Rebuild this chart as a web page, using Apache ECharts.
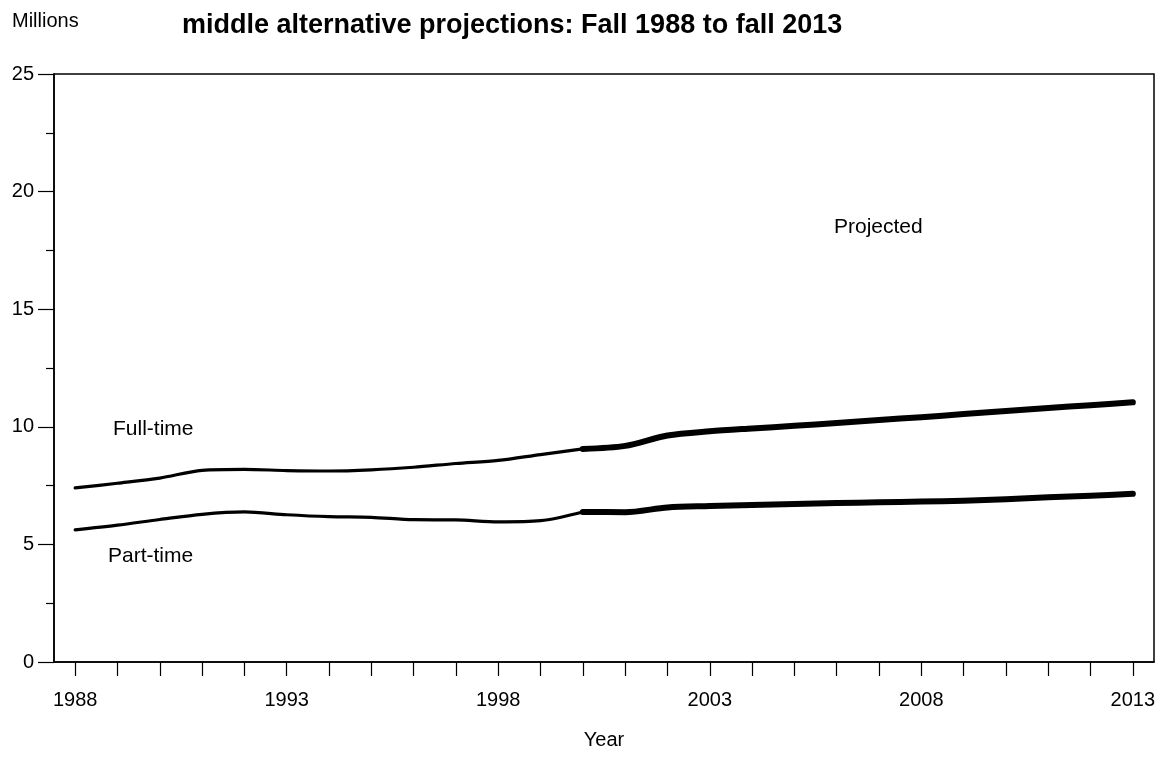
<!DOCTYPE html>
<html>
<head>
<meta charset="utf-8">
<script src="https://cdn.jsdelivr.net/npm/echarts@6/dist/echarts.min.js"></script>
<style>
  html, body { margin: 0; padding: 0; background: #fff; }
  #chart { width: 1172px; height: 759px; }
</style>
</head>
<body>
<div id="chart"></div>
<script>
// ---- data (millions) ----
const years = ['1988','1989','1990','1991','1992','1993','1994','1995','1996','1997','1998','1999','2000',
               '2001','2002','2003','2004','2005','2006','2007','2008','2009','2010','2011','2012','2013'];
const fullTime = [7.40, 7.60, 7.82, 8.15, 8.19, 8.14, 8.12, 8.17, 8.28, 8.44, 8.57, 8.82, 9.06,
                  9.19, 9.63, 9.81, 9.93, 10.04, 10.16, 10.29, 10.41, 10.54, 10.67, 10.80, 10.92, 11.04];
const partTime = [5.62, 5.82, 6.06, 6.28, 6.38, 6.26, 6.18, 6.15, 6.05, 6.04, 5.96, 6.01, 6.38,
                  6.37, 6.57, 6.63, 6.68, 6.72, 6.76, 6.79, 6.82, 6.86, 6.92, 7.00, 7.07, 7.15];
const projectedStart = '2000';
const yTicks = { min: 0, max: 25, interval: 5 };

const FONT = "'Liberation Sans', Arial, Helvetica, sans-serif";
const pIdx = years.indexOf(projectedStart);
const actualPart = arr => arr.map((v, i) => i <= pIdx ? v : null);
const projPart = arr => arr.map((v, i) => i >= pIdx ? v : null);

const chart = echarts.init(document.getElementById('chart'), null, { renderer: 'canvas' });

function lineSeries(name, data, width) {
  return {
    name: name, type: 'line', data: data, symbol: 'none', smooth: 0.3,
    connectNulls: false, silent: true,
    lineStyle: { color: '#000', width: width, cap: 'round', join: 'round' }
  };
}

chart.setOption({
  backgroundColor: '#fff',
  animation: false,
  textStyle: { fontFamily: FONT, color: '#000' },
  grid: { left: 54, width: 1100, top: 74, height: 588, show: true, borderColor: '#000', borderWidth: 1.5, backgroundColor: 'transparent' },
  xAxis: {
    type: 'category', data: years, boundaryGap: true,
    name: 'Year', nameLocation: 'middle', nameGap: 68,
    nameTextStyle: { fontSize: 20, color: '#000', fontFamily: FONT },
    axisLine: { show: true, lineStyle: { color: '#000', width: 1.5 } },
    axisTick: { show: true, alignWithLabel: true, interval: 0, length: 14, inside: false, lineStyle: { color: '#000', width: 1.2 } },
    axisLabel: { interval: 4, fontSize: 20, color: '#000', margin: 28, fontFamily: FONT },
    splitLine: { show: false }
  },
  yAxis: {
    type: 'value', min: yTicks.min, max: yTicks.max, interval: yTicks.interval,
    axisLine: { show: true, lineStyle: { color: '#000', width: 1.5 } },
    axisTick: { show: true, length: 16, inside: false, lineStyle: { color: '#000', width: 1.2 } },
    minorTick: { show: true, splitNumber: 2, length: 8, lineStyle: { color: '#000', width: 1.2 } },
    axisLabel: { fontSize: 20, color: '#000', margin: 20, fontFamily: FONT },
    splitLine: { show: false }
  },
  series: [
    lineSeries('Full-time (actual)', actualPart(fullTime), 3.2),
    lineSeries('Full-time (projected)', projPart(fullTime), 6),
    lineSeries('Part-time (actual)', actualPart(partTime), 3.2),
    lineSeries('Part-time (projected)', projPart(partTime), 6)
  ],
  graphic: [
    { type: 'text', left: 182, top: 12, style: { text: 'middle alternative projections: Fall 1988 to fall 2013', font: 'bold 27px ' + FONT, fill: '#000' } },
    { type: 'text', left: 12, top: 11, style: { text: 'Millions', font: '20px ' + FONT, fill: '#000' } },
    { type: 'text', left: 834, top: 217, style: { text: 'Projected', font: '21px ' + FONT, fill: '#000' } },
    { type: 'text', left: 113, top: 419, style: { text: 'Full-time', font: '21px ' + FONT, fill: '#000' } },
    { type: 'text', left: 108, top: 546, style: { text: 'Part-time', font: '21px ' + FONT, fill: '#000' } }
  ]
});
</script>
</body>
</html>
